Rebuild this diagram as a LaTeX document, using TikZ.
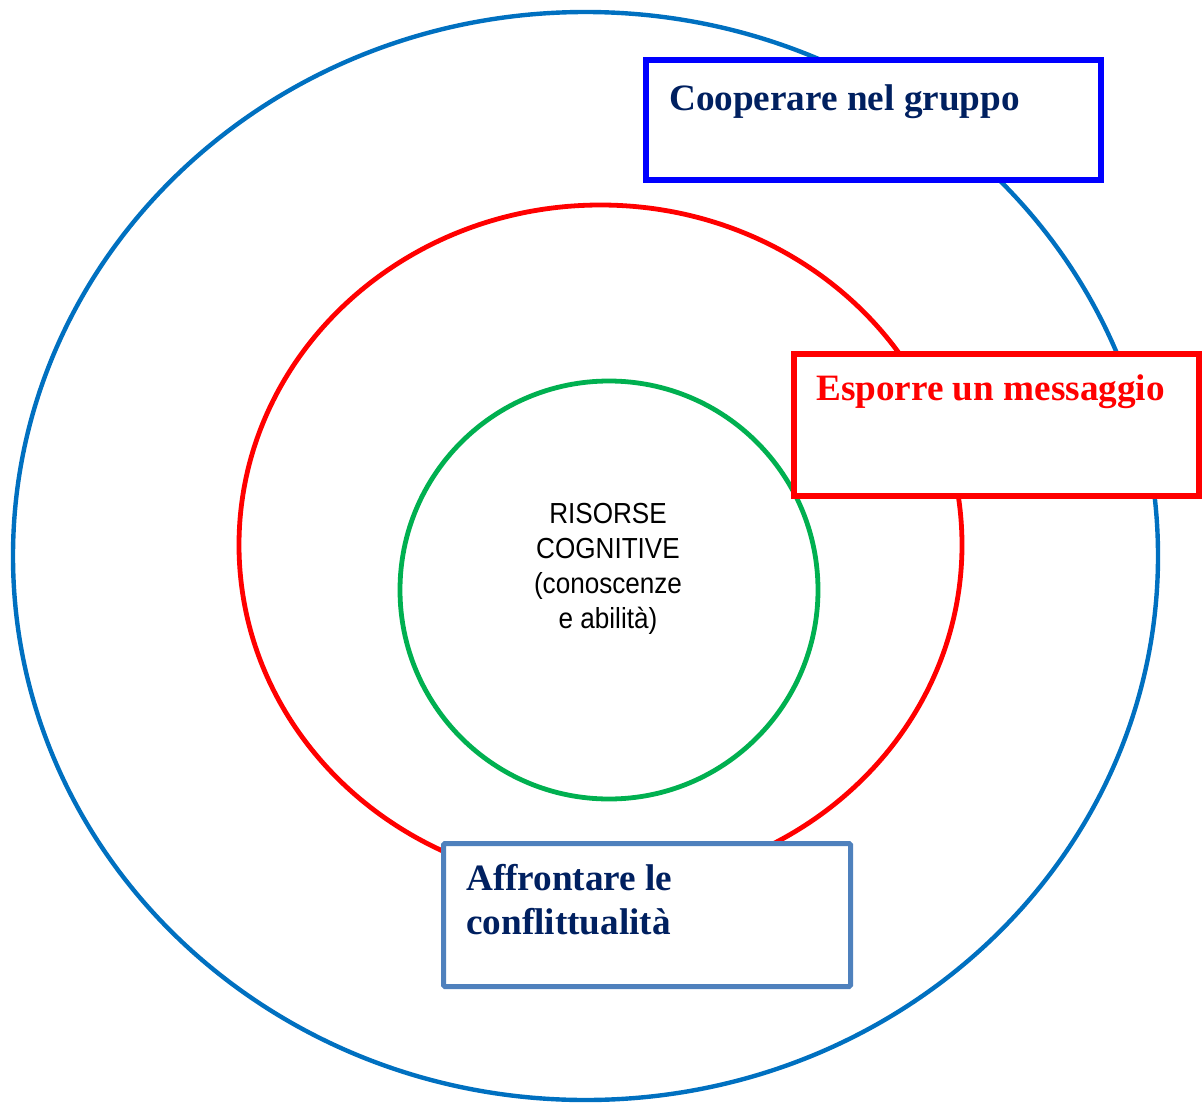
\documentclass[tikz,border=0pt]{standalone}
\usepackage{fontspec}
\setmainfont{Liberation Serif}
\newfontfamily\narrowsans[FakeStretch=0.9]{Liberation Sans}
\definecolor{ringblue}{HTML}{0070C0}
\definecolor{ringred}{HTML}{FF0000}
\definecolor{ringgreen}{HTML}{00B050}
\definecolor{boxblue}{HTML}{0000FF}
\definecolor{steel}{HTML}{4F81BD}
\definecolor{navy}{HTML}{002060}
\tikzset{
  ring/.style={line width=4.8pt},
  boxshape/.style={draw, fill=white, rectangle, inner sep=0pt},
  title/.style={anchor=base west, inner sep=0pt, font=\fontsize{37.2}{44}\selectfont\bfseries},
  centretext/.style={anchor=base, inner sep=0pt, font=\fontsize{29}{35}\selectfont\narrowsans}
}
\begin{document}
\begin{tikzpicture}[x=1pt,y=-1pt]
\useasboundingbox (0,0) rectangle (1202,1103);
% rings
\draw[ring, ringblue, line width=4.4pt] (585.5,556) ellipse [x radius=572.5, y radius=544];
\draw[ring, ringred] (600.5,545) ellipse [x radius=361.5, y radius=340];
\draw[ring, ringgreen] (609,590) ellipse [x radius=209, y radius=209];
% centre text
\node[centretext] (c1) at (608,523) {RISORSE};
\node[centretext] (c2) at (608,558) {COGNITIVE};
\node[centretext] (c3) at (608,593) {(conoscenze};
\node[centretext] (c4) at (608,628) {e abilità)};
% boxes
\node[boxshape, draw=boxblue, line width=6pt, minimum width=455pt, minimum height=119.4pt] (coop) at (873.8,120) {};
\node[title, navy] (cooptext) at (669,110) {Cooperare nel gruppo};
\node[boxshape, draw=ringred, line width=6pt, minimum width=404.7pt, minimum height=142.3pt] (esp) at (996.35,425.15) {};
\node[title, ringred] (esptext) at (816,400) {Esporre un messaggio};
\node[boxshape, draw=steel, line width=5pt, rounded corners=1.5pt, minimum width=407pt, minimum height=143pt] (aff) at (647,915) {};
\node[title, navy] (afftext1) at (466,890) {Affrontare le};
\node[title, navy] (afftext2) at (466,934) {conflittualità};
\end{tikzpicture}
\end{document}
